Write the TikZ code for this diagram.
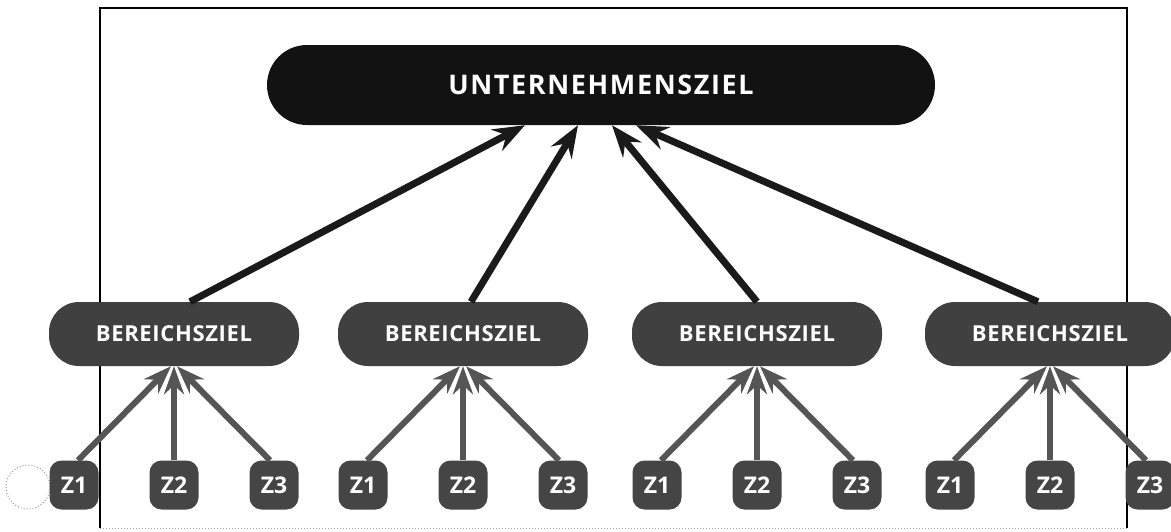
\documentclass[tikz,border=0pt]{standalone}
\usepackage{fontspec}
\setmainfont{Open Sans}
\newfontfamily\topfont[LetterSpace=6]{Open Sans}
\newfontfamily\midfont[LetterSpace=3]{Open Sans}
\usetikzlibrary{arrows.meta}
\definecolor{topblack}{HTML}{121212}
\definecolor{pillgray}{HTML}{404040}
\definecolor{zgray}{HTML}{454545}
\definecolor{arrowdark}{HTML}{1A1A1A}
\definecolor{arrowgray}{HTML}{555555}
\begin{document}
\begin{tikzpicture}[x=1pt,y=-1pt,
  topbox/.style={fill=topblack, text=white, minimum width=668pt, minimum height=80pt, rounded corners=40pt, inner sep=0pt, font=\topfont\bfseries\fontsize{27}{30}\selectfont},
  pill/.style={fill=pillgray, text=white, minimum width=250pt, minimum height=64pt, rounded corners=30pt, inner sep=0pt, font=\midfont\bfseries\fontsize{22}{25}\selectfont},
  zbox/.style={fill=zgray, text=white, minimum width=49pt, minimum height=49pt, rounded corners=12pt, inner sep=0pt, font=\bfseries\fontsize{23}{26}\selectfont},
  bigarrow/.style={draw=arrowdark, line width=7pt, -{Stealth[length=32pt,width=24pt,inset=11pt]}},
  smallarrow/.style={draw=arrowgray, line width=6pt, -{Stealth[length=28pt,width=20pt,inset=9pt]}},
  framestyle/.style={line width=1.5pt, draw=black},
]
\useasboundingbox (0,0) rectangle (1171,531);
\draw[framestyle] (100,528) -- (100,8) -- (1127,8) -- (1127,528);
\draw[line width=1pt, black!35, dotted] (100,528) -- (1127,528);
\draw[black!40, dotted, line width=1pt] (28,487) circle (22pt);

\node[topbox] (top) at (601,85) {UNTERNEHMENSZIEL};
\foreach \i/\x in {1/174,2/463,3/757,4/1050} {
  \node[pill] (b\i) at (\x,334) {BEREICHSZIEL};
  \node[zbox] (z\i1) at (\x-100,485) {Z1};
  \node[zbox] (z\i2) at (\x,485) {Z2};
  \node[zbox] (z\i3) at (\x+100,485) {Z3};
  \draw[smallarrow] ([xshift=4pt]z\i1.north) -- ([xshift=-3pt]b\i.south);
  \draw[smallarrow] (z\i2.north) -- (b\i.south);
  \draw[smallarrow] ([xshift=-4pt]z\i3.north) -- ([xshift=3pt]b\i.south);
}
\draw[bigarrow] ([xshift=16pt]b1.north) -- ([xshift=-76pt]top.south);
\draw[bigarrow] ([xshift=8pt]b2.north) -- ([xshift=-23pt]top.south);
\draw[bigarrow] (b3.north) -- ([xshift=11pt]top.south);
\draw[bigarrow] ([xshift=-12pt]b4.north) -- ([xshift=35pt]top.south);
\end{tikzpicture}
\end{document}
